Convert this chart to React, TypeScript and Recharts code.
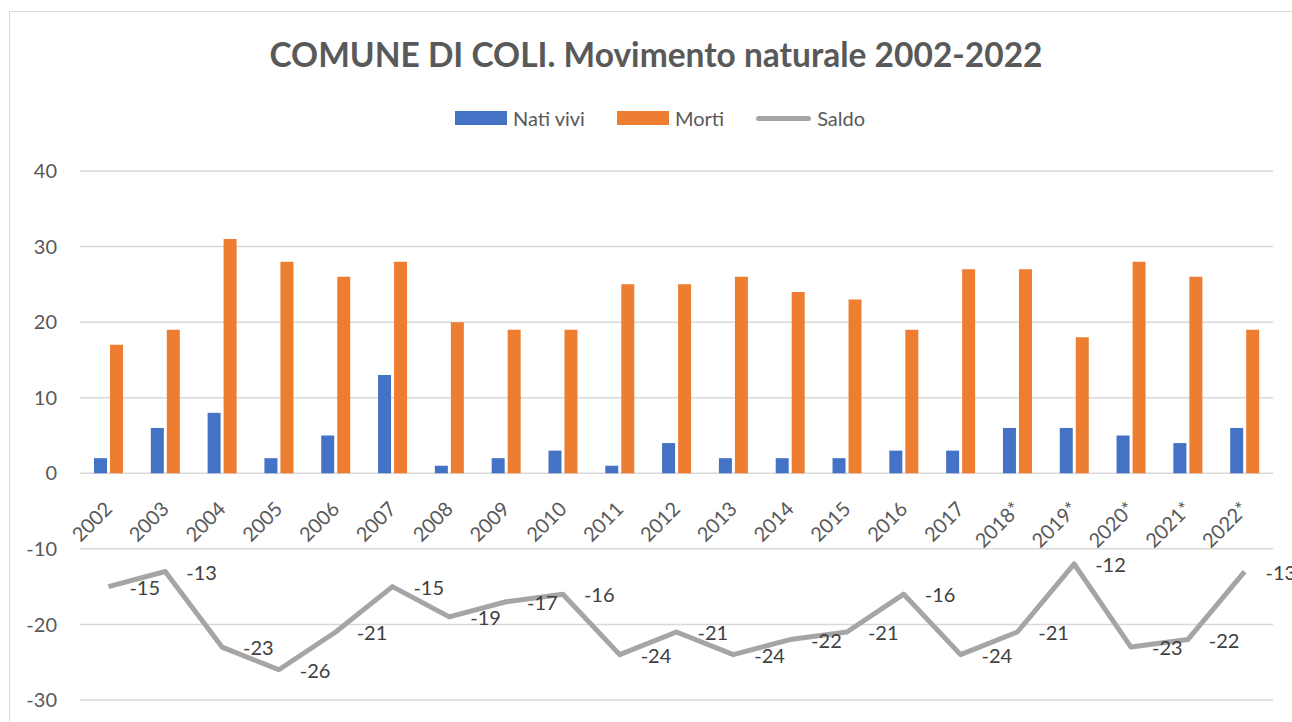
import React from "react";
import {
  Bar,
  CartesianGrid,
  ComposedChart,
  LabelList,
  Line,
  XAxis,
  YAxis,
} from "recharts";

const years = [
  "2002", "2003", "2004", "2005", "2006", "2007", "2008", "2009", "2010", "2011",
  "2012", "2013", "2014", "2015", "2016", "2017", "2018*", "2019*", "2020*", "2021*", "2022*",
];
const natiVivi = [2, 6, 8, 2, 5, 13, 1, 2, 3, 1, 4, 2, 2, 2, 3, 3, 6, 6, 5, 4, 6];
const morti = [17, 19, 31, 28, 26, 28, 20, 19, 19, 25, 25, 26, 24, 23, 19, 27, 27, 18, 28, 26, 19];
const saldo = [-15, -13, -23, -26, -21, -15, -19, -17, -16, -24, -21, -24, -22, -21, -16, -24, -21, -12, -23, -22, -13];
const yTicks = [-30, -20, -10, 0, 10, 20, 30, 40];

const data = years.map((anno, i) => ({
  anno,
  nati: natiVivi[i],
  morti: morti[i],
  saldo: saldo[i],
}));

const W = 1300;
const H = 714;
const PLOT_TOP = 163;
const PLOT_BOTTOM = 692;
const PLOT_RIGHT = 1265;
const Y_MIN = -30;
const Y_MAX = 40;
const ZERO_Y = PLOT_TOP + ((PLOT_BOTTOM - PLOT_TOP) * Y_MAX) / (Y_MAX - Y_MIN);

const FONT = "Lato, 'Open Sans', sans-serif";
const TEXT = "#595959";
const BLUE = "#4472C4";
const ORANGE = "#ED7D31";
const GRAY = "#A5A5A5";

const legendItems = [
  { label: "Nati vivi", color: BLUE, kind: "bar" },
  { label: "Morti", color: ORANGE, kind: "bar" },
  { label: "Saldo", color: GRAY, kind: "line" },
];

function YearTick(props: any) {
  const { x, payload } = props;
  const tx = x + 5;
  const ty = ZERO_Y + 37;
  return (
    <text
      x={tx}
      y={ty}
      transform={`rotate(-45 ${tx} ${ty})`}
      textAnchor="end"
      fill={TEXT}
      fontSize={20}
      fontFamily={FONT}
    >
      {payload.value}
    </text>
  );
}

function SaldoLabel(props: any) {
  const { x, y, value } = props;
  return (
    <text
      x={x + 21}
      y={y}
      dominantBaseline="central"
      fill="#404040"
      fontSize={20}
      fontFamily={FONT}
    >
      {value}
    </text>
  );
}

export default function App() {
  return (
    <div
      style={{
        position: "fixed",
        left: 8,
        top: 8,
        width: W,
        height: H,
        overflow: "hidden",
        background: "#fff",
      }}
    >
      <div
        style={{
          position: "absolute",
          left: 1,
          top: 3,
          width: 1400,
          height: 800,
          borderTop: "1px solid #D9D9D9",
          borderLeft: "1px solid #D9D9D9",
        }}
      />
      <div
        style={{
          position: "absolute",
          left: 6,
          top: 26,
          width: 1284,
          textAlign: "center",
          fontFamily: FONT,
          fontWeight: 700,
          fontSize: 33.5,
          color: TEXT,
          lineHeight: "40px",
        }}
      >
        COMUNE DI COLI. Movimento naturale 2002-2022
      </div>
      <div
        style={{
          position: "absolute",
          left: 10,
          top: 96,
          width: 1284,
          display: "flex",
          justifyContent: "center",
          gap: 32,
          fontFamily: FONT,
          fontSize: 20,
          color: TEXT,
          lineHeight: "28px",
        }}
      >
        {legendItems.map((it) => (
          <div key={it.label} style={{ display: "flex", alignItems: "center", gap: 6 }}>
            <span
              style={{
                display: "inline-block",
                width: it.kind === "bar" ? 52 : 55,
                height: it.kind === "bar" ? 14 : 5,
                borderRadius: it.kind === "bar" ? 0 : 3,
                background: it.color,
              }}
            />
            <span>{it.label}</span>
          </div>
        ))}
      </div>
      <div style={{ position: "absolute", left: 0, top: 0 }}>
        <ComposedChart
          width={W}
          height={H}
          data={data}
          margin={{ top: PLOT_TOP, right: W - PLOT_RIGHT, bottom: H - PLOT_BOTTOM - 1, left: 0 }}
          barSize={13}
          barGap={3}
        >
          <CartesianGrid stroke="#D9D9D9" strokeWidth={1.5} vertical={false} />
          <XAxis
            dataKey="anno"
            height={1}
            axisLine={false}
            tickLine={false}
            interval={0}
            tick={<YearTick />}
          />
          <YAxis
            width={72}
            domain={[Y_MIN, Y_MAX]}
            ticks={yTicks}
            axisLine={false}
            tickLine={false}
            tickSize={0}
            tickMargin={23}
            tick={{ fill: TEXT, fontSize: 20, fontFamily: FONT }}
          />
          <Bar dataKey="nati" name="Nati vivi" fill={BLUE} isAnimationActive={false} />
          <Bar dataKey="morti" name="Morti" fill={ORANGE} isAnimationActive={false} />
          <Line
            dataKey="saldo"
            name="Saldo"
            stroke={GRAY}
            strokeWidth={5}
            dot={false}
            strokeLinejoin="round"
            isAnimationActive={false}
          >
            <LabelList dataKey="saldo" content={<SaldoLabel />} />
          </Line>
        </ComposedChart>
      </div>
    </div>
  );
}
